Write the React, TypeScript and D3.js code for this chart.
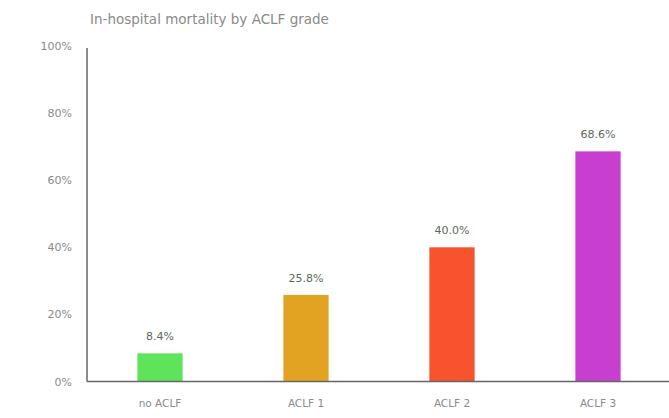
import React from "react";
import * as d3 from "d3";

const categories = ["no ACLF", "ACLF 1", "ACLF 2", "ACLF 3"];
const mortality = [8.4, 25.8, 40.0, 68.6];
const barColors = ["#5fe35a", "#e3a322", "#f7532f", "#c83fd0"];
const yTicks = [0, 20, 40, 60, 80, 100];
const title = "In-hospital mortality by ACLF grade";

const W = 669;
const H = 418;
const left = 87;
const top = 46;
const bottom = 381.5;

export default function App() {
  const x = d3.scaleBand<string>().domain(categories).range([left, left + 584]).paddingInner(0.69).paddingOuter(0.345);
  const y = d3.scaleLinear().domain([0, 100]).range([bottom, top]);
  const font = "'DejaVu Sans', sans-serif";
  return (
    <svg width={W} height={H} style={{ position: "absolute", left: 0, top: 0, background: "#fff" }}>
      <text x={90} y={24} fontFamily={font} fontSize={13.5} fill="#8a8a8a">{title}</text>
      {yTicks.map((t) => (
        <text key={t} x={72} y={y(t) + 4} textAnchor="end" fontFamily={font} fontSize={11} fill="#8a8a8a">{t}%</text>
      ))}
      {categories.map((c, i) => (
        <g key={c}>
          <rect x={x(c)} y={y(mortality[i])} width={x.bandwidth()} height={bottom - y(mortality[i])} fill={barColors[i]} />
          <text x={(x(c) as number) + x.bandwidth() / 2} y={y(mortality[i]) - 13} textAnchor="middle" fontFamily={font} fontSize={11} fontWeight={500} fill="#5a6a5a">{mortality[i].toFixed(1)}%</text>
          <text x={(x(c) as number) + x.bandwidth() / 2} y={bottom + 25} textAnchor="middle" fontFamily={font} fontSize={10.5} fill="#8a8a8a">{c}</text>
        </g>
      ))}
      <line x1={left} x2={left} y1={top + 2} y2={bottom} stroke="#666" strokeWidth={1.5} />
      <line x1={left} x2={W} y1={bottom} y2={bottom} stroke="#666" strokeWidth={1.5} />
    </svg>
  );
}
